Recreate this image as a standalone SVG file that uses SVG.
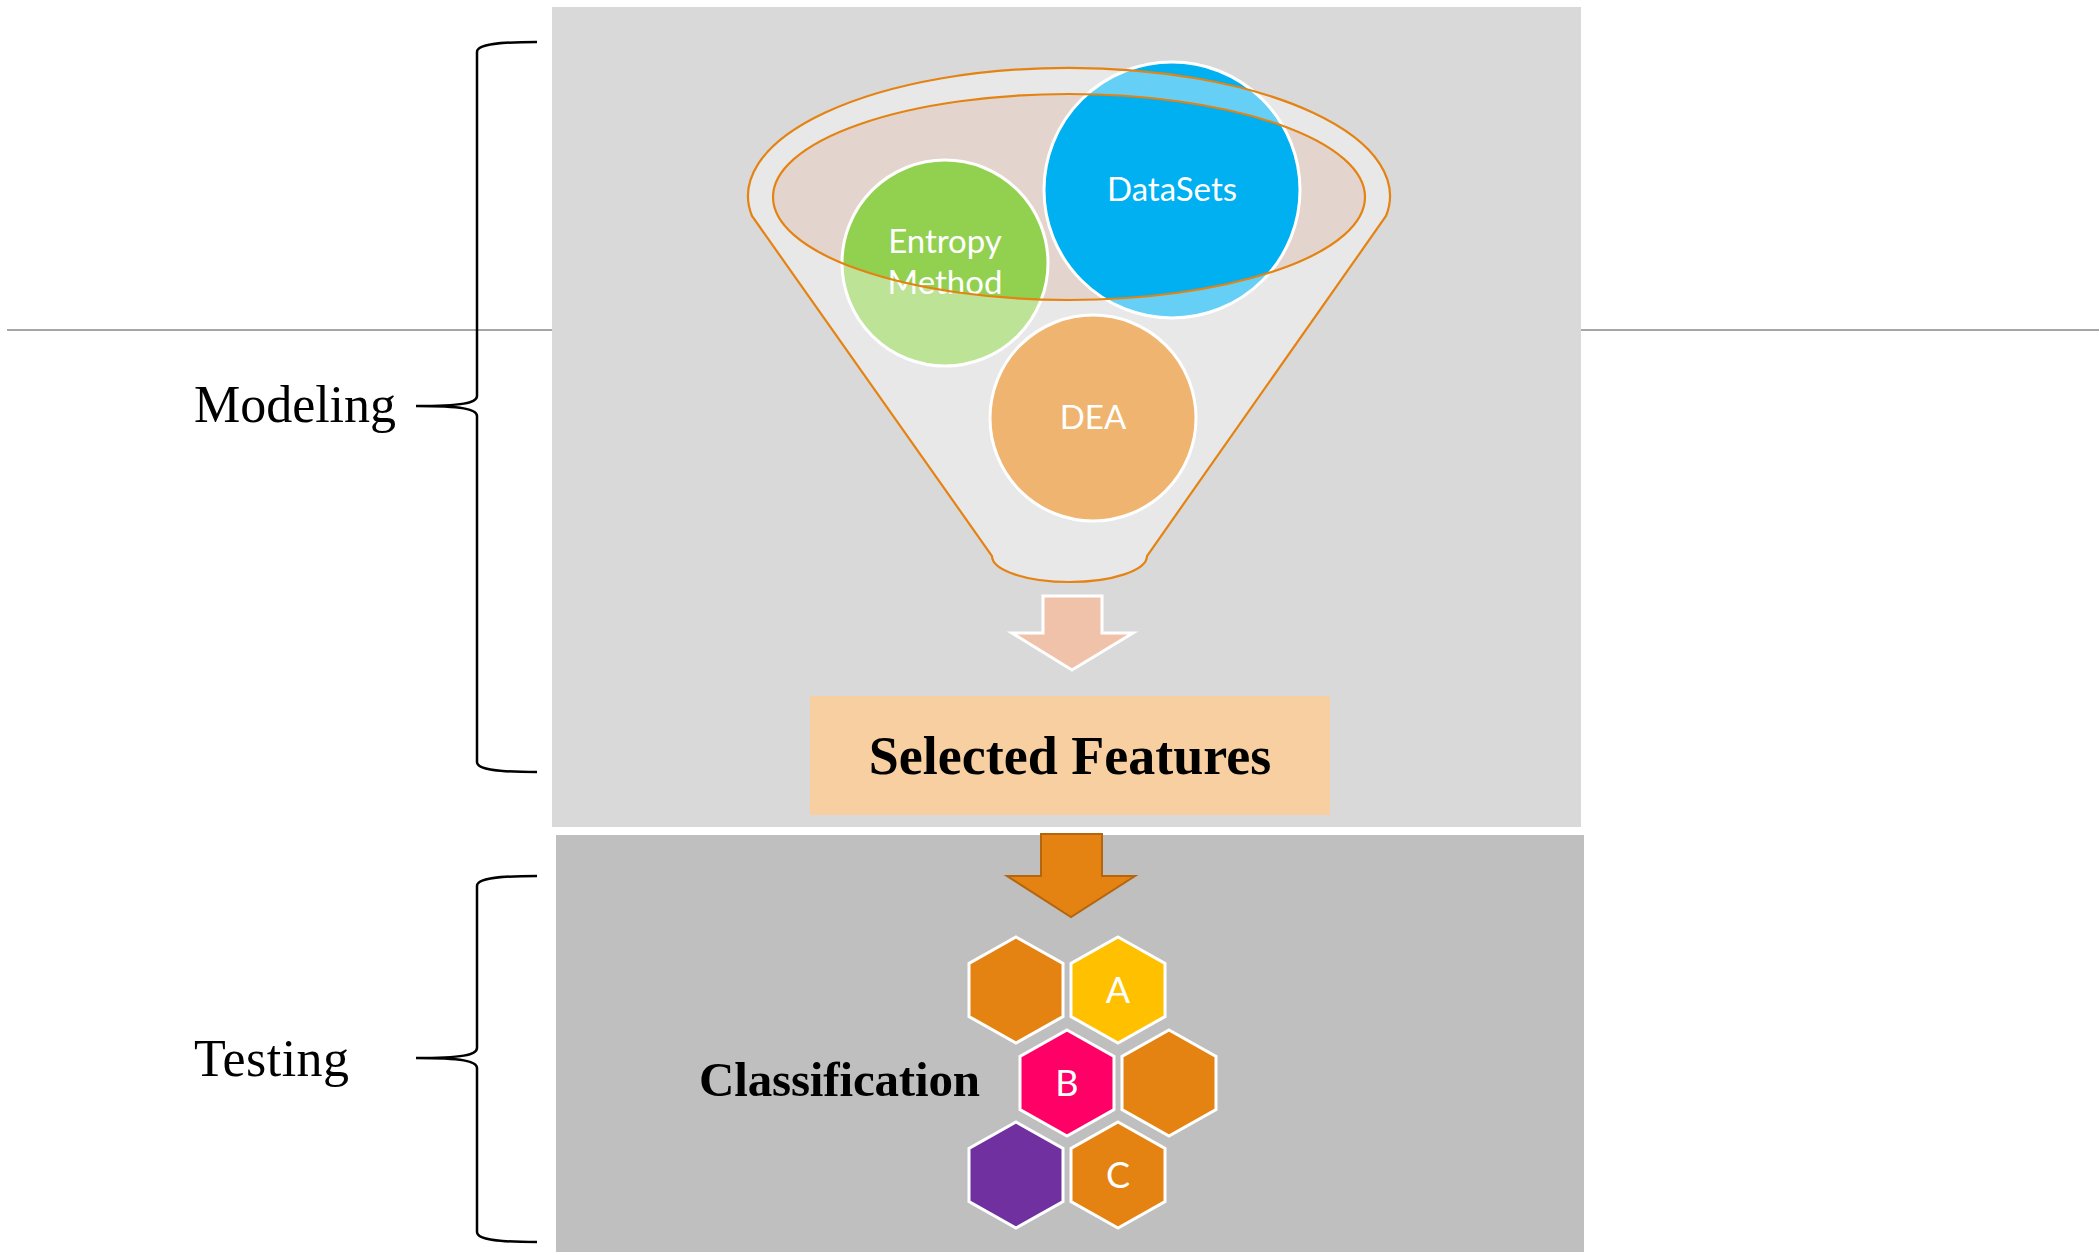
<svg xmlns="http://www.w3.org/2000/svg" width="2099" height="1254" viewBox="0 0 2099 1254">
<defs>
<style>
.lbl{font-family:"Liberation Serif","DejaVu Serif",serif;fill:#000}
.bold{font-family:"Liberation Serif","DejaVu Serif",serif;font-weight:bold;fill:#000}
.wt{font-family:Lato,"Open Sans","Liberation Sans",sans-serif;fill:#fff;text-anchor:middle}
.circ{stroke:#fff;stroke-width:3}
.hex{stroke:#fff;stroke-width:3}
.brace{fill:none;stroke:#000;stroke-width:2.5}
.orange{fill:none;stroke:#E48312;stroke-width:2.2}
</style>
<polygon id="hexshape" points="0,-53 47,-26.5 47,26.5 0,53 -47,26.5 -47,-26.5"/>
</defs>
<rect x="0" y="0" width="2099" height="1254" fill="#fff"/>
<line x1="7" y1="330" x2="2099" y2="330" stroke="#a6a6a6" stroke-width="2"/>
<g id="modeling-panel">
<rect x="552" y="7" width="1029" height="820" fill="#d9d9d9"/>
</g>
<g id="testing-panel">
<rect x="556" y="835" width="1028" height="417" fill="#bfbfbf"/>
</g>
<g id="funnel">
<ellipse cx="1069" cy="197" rx="296" ry="103" fill="#E3D5CD"/>
<g id="entropy">
<circle class="circ" cx="945" cy="263" r="103" fill="#92D050"/>
<text class="wt" x="945" y="253" font-size="33">Entropy</text>
<text class="wt" x="945" y="294" font-size="33">Method</text>
</g>
<g id="datasets">
<circle class="circ" cx="1172" cy="190" r="128" fill="#00B0F0"/>
<text class="wt" x="1172" y="201" font-size="33">DataSets</text>
</g>
<g id="dea">
<circle class="circ" cx="1093" cy="418" r="103" fill="#E48312"/>
<text class="wt" x="1093" y="429" font-size="33">DEA</text>
</g>
<path d="M752,216 A321,128 0 1,1 1386,216 L1147,556 A77.5,26 0 0,1 992,556 Z M773,197 A296,103 0 1,0 1365,197 A296,103 0 1,0 773,197 Z" fill="#fff" fill-opacity="0.4" fill-rule="evenodd"/>
<path class="orange" d="M752,216 A321,128 0 1,1 1386,216 L1147,556 A77.5,26 0 0,1 992,556 Z"/>
<ellipse class="orange" cx="1069" cy="197" rx="296" ry="103"/>
</g>
<g id="selected-features">
<rect x="810" y="696" width="520" height="119" fill="#F8CFA0"/>
<text class="bold" x="1070" y="774" font-size="54" text-anchor="middle">Selected Features</text>
</g>
<g id="classification">
<text class="bold" x="699" y="1096" font-size="49" textLength="281">Classification</text>
<use href="#hexshape" class="hex" x="1016" y="990" fill="#E48312"/>
<use href="#hexshape" class="hex" x="1118" y="990" fill="#FFC000"/>
<use href="#hexshape" class="hex" x="1067" y="1083" fill="#FF0066"/>
<use href="#hexshape" class="hex" x="1169" y="1083" fill="#E48312"/>
<use href="#hexshape" class="hex" x="1016" y="1175" fill="#7030A0"/>
<use href="#hexshape" class="hex" x="1118" y="1175" fill="#E48312"/>
<text class="wt" x="1118" y="1003" font-size="36">A</text>
<text class="wt" x="1067" y="1096" font-size="36">B</text>
<text class="wt" x="1118" y="1188" font-size="36">C</text>
</g>
<g id="label-modeling">
<text class="lbl" x="194" y="422" font-size="52" textLength="202">Modeling</text>
</g>
<g id="label-testing">
<text class="lbl" x="194" y="1076" font-size="52" textLength="155">Testing</text>
</g>
<g id="connectors">
<path class="brace" d="M537,42 C500,42 477,44 477,52 L477,396 C477,403 462,406 416,406 C462,406 477,409 477,416 L477,762 C477,770 500,772 537,772"/>
<path class="brace" d="M537,876 C500,876 477,878 477,886 L477,1048 C477,1055 462,1058 416,1058 C462,1058 477,1061 477,1068 L477,1232 C477,1240 500,1242 537,1242"/>
<polygon points="1043,596 1102,596 1102,633 1133,633 1072,670 1012,633 1043,633" fill="#F0C2AA" stroke="#fff" stroke-width="3"/>
<polygon points="1041,834 1102,834 1102,876 1135,876 1071,917 1007,876 1041,876" fill="#E48312" stroke="#B5650E" stroke-width="2"/>
</g>
</svg>
